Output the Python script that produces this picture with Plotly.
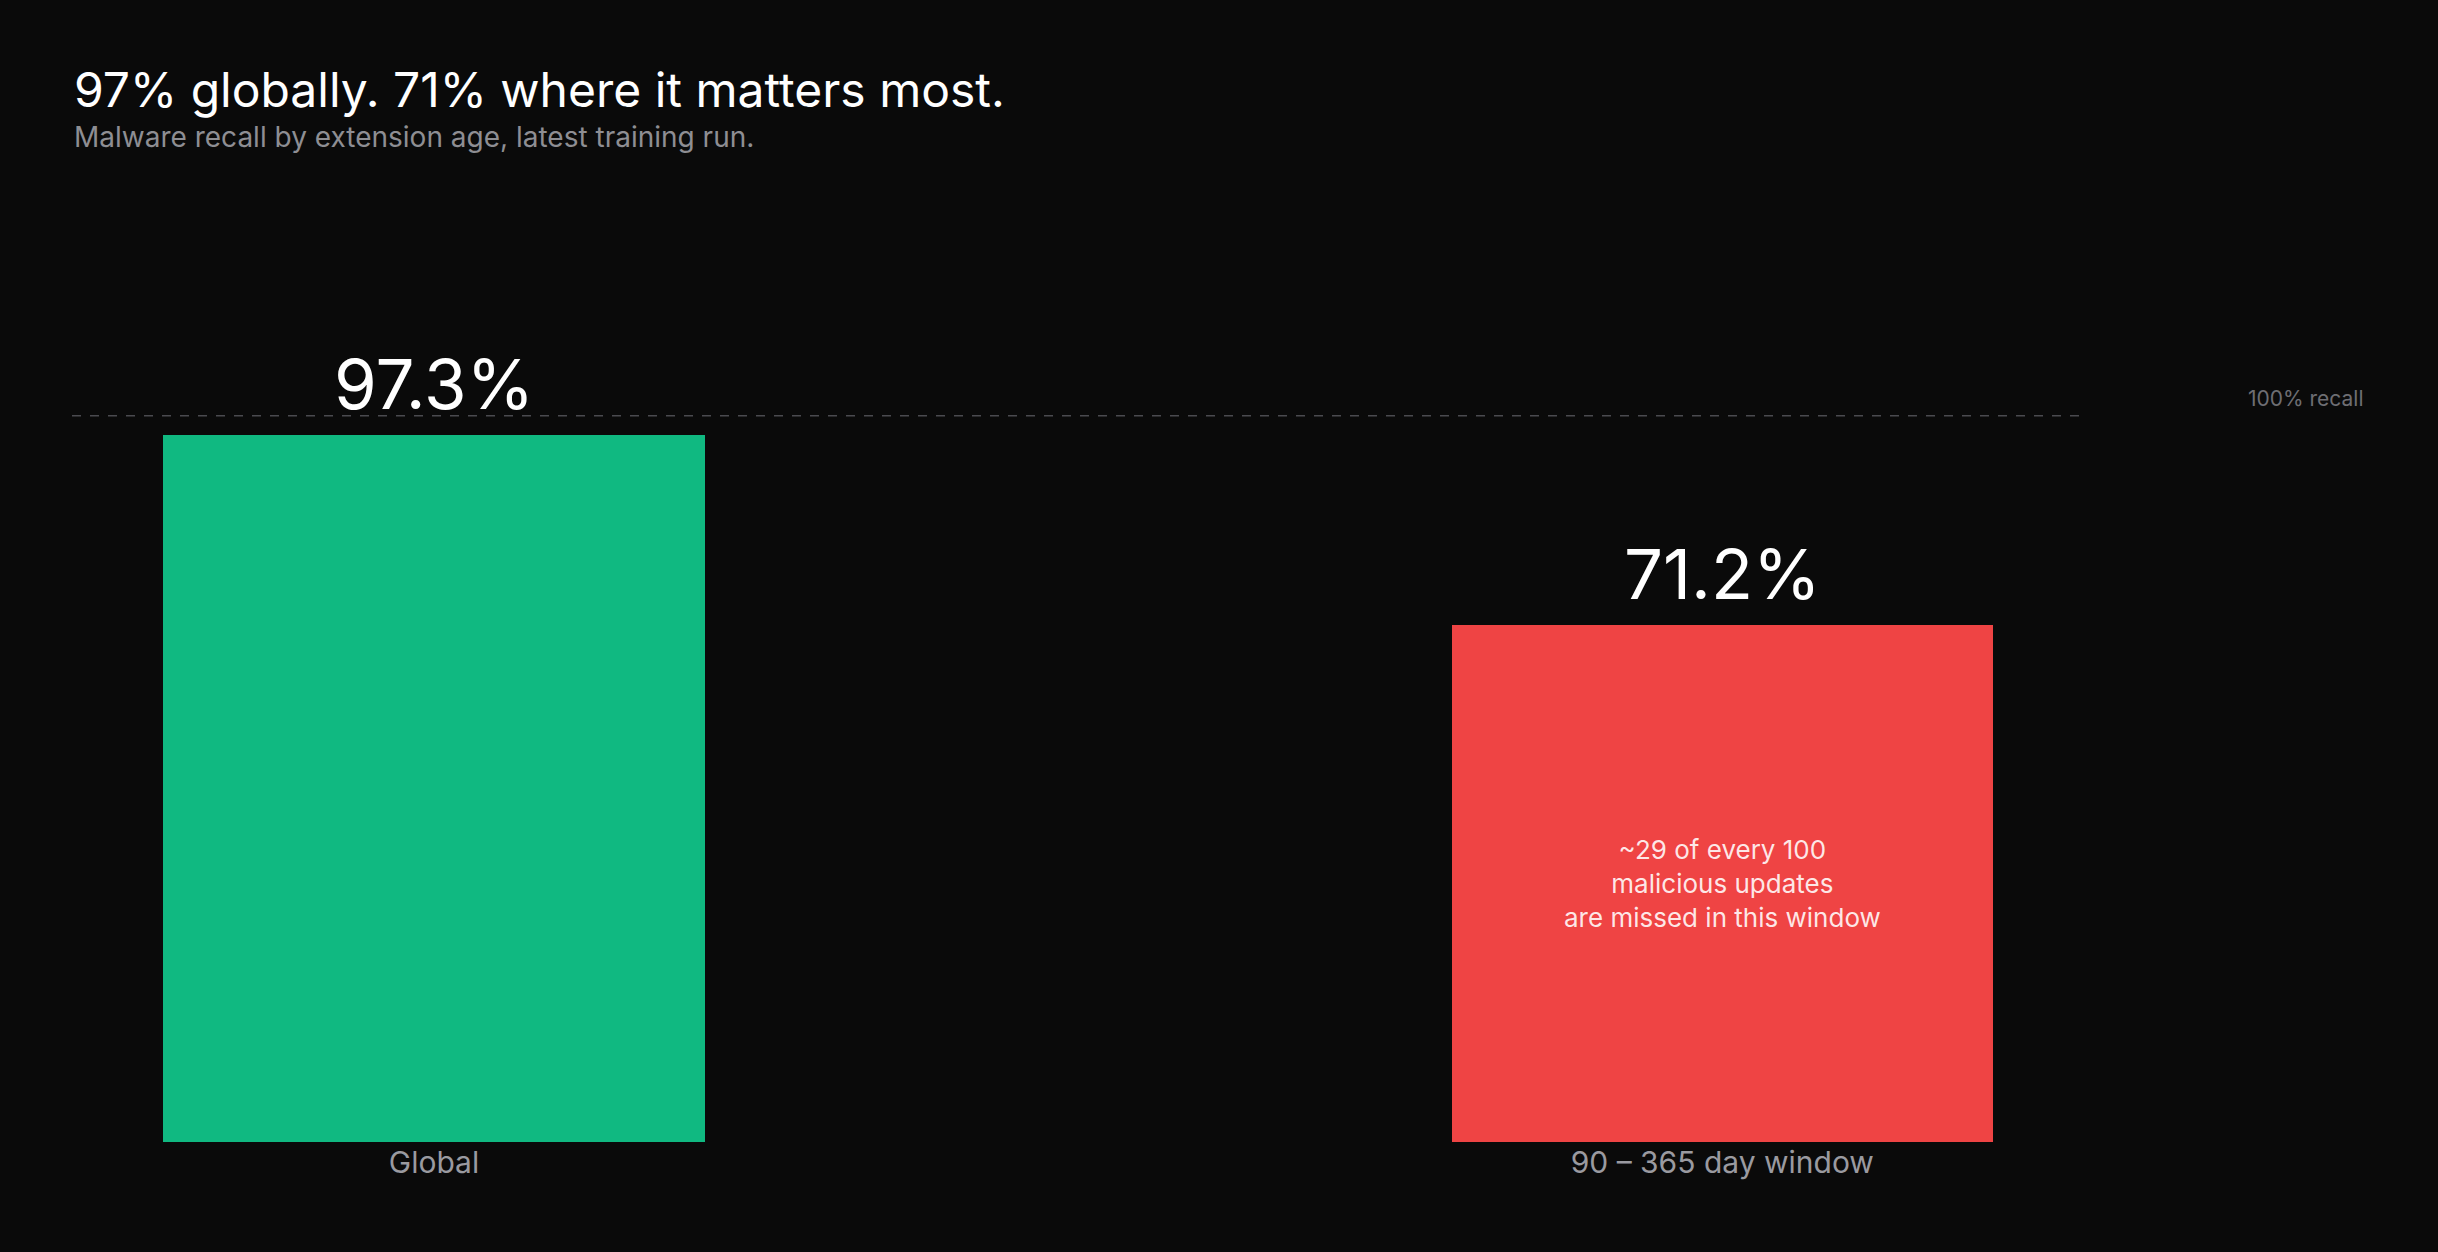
import plotly.graph_objects as go

categories = ["Global", "90 – 365 day window"]
recall = [97.3, 71.2]
bar_colors = ["#10b981", "#ef4444"]
value_labels = ["97.3%", "71.2%"]
reference_value = 100
reference_label = "100% recall"
inner_note = "~29 of every 100<br>malicious updates<br>are missed in this window"
title_text = "97% globally. 71% where it matters most."
subtitle_text = "Malware recall by extension age, latest training run."

FONT = "Inter, Liberation Sans, Arial, sans-serif"
xs = list(range(len(categories)))

fig = go.Figure()
fig.add_trace(go.Bar(
    x=xs, y=recall, width=0.42,
    marker=dict(color=bar_colors, line=dict(width=0)),
    hoverinfo="skip", showlegend=False,
))

annotations = []
for xi, v, lab in zip(xs, recall, value_labels):
    annotations.append(dict(
        x=xi, y=v, xref="x", yref="y", text=lab, showarrow=False,
        yanchor="bottom", yshift=7,
        font=dict(family=FONT, size=69, color="#ffffff"),
    ))
annotations.append(dict(
    x=xs[1], y=recall[1] / 2, xref="x", yref="y", text=inner_note, showarrow=False,
    xanchor="center", yanchor="middle",
    font=dict(family=FONT, size=26, color="rgba(255,255,255,0.88)"),
))
annotations.append(dict(
    x=1.1407, y=reference_value, xref="paper", yref="y", text=reference_label,
    showarrow=False, xanchor="right", yanchor="bottom", yshift=3,
    font=dict(family=FONT, size=21, color="#6e6e73"),
))
annotations.append(dict(
    x=0, y=1.317, xref="paper", yref="paper", text=title_text, showarrow=False,
    xanchor="left", yanchor="middle",
    font=dict(family=FONT, size=48, color="#ffffff"),
))
annotations.append(dict(
    x=0, y=1.258, xref="paper", yref="paper", text=subtitle_text, showarrow=False,
    xanchor="left", yanchor="middle",
    font=dict(family=FONT, size=28, color="#8e8e93"),
))

fig.add_shape(
    type="line", xref="paper", yref="y", x0=0, x1=1,
    y0=reference_value, y1=reference_value,
    line=dict(color="#4a4a4f", width=1.5, dash="dash"),
)

fig.update_layout(
    width=2438, height=1252,
    paper_bgcolor="#0a0a0a", plot_bgcolor="#0a0a0a",
    margin=dict(l=72, r=355, t=343, b=110, pad=0),
    annotations=annotations,
    bargap=0,
    xaxis=dict(
        range=[-0.281, 1.280], tickvals=xs, ticktext=categories,
        showgrid=False, zeroline=False, showline=False, ticks="",
        tickfont=dict(family=FONT, size=30, color="#9a9aa0"),
        fixedrange=True,
    ),
    yaxis=dict(
        range=[0, 110], showgrid=False, zeroline=False, showline=False,
        showticklabels=False, ticks="", fixedrange=True,
    ),
    font=dict(family=FONT),
)

fig.write_html(
    "out.html",
    config={"displayModeBar": False},
    post_script="document.body.style.margin='0';document.body.style.background='#0a0a0a';",
)
